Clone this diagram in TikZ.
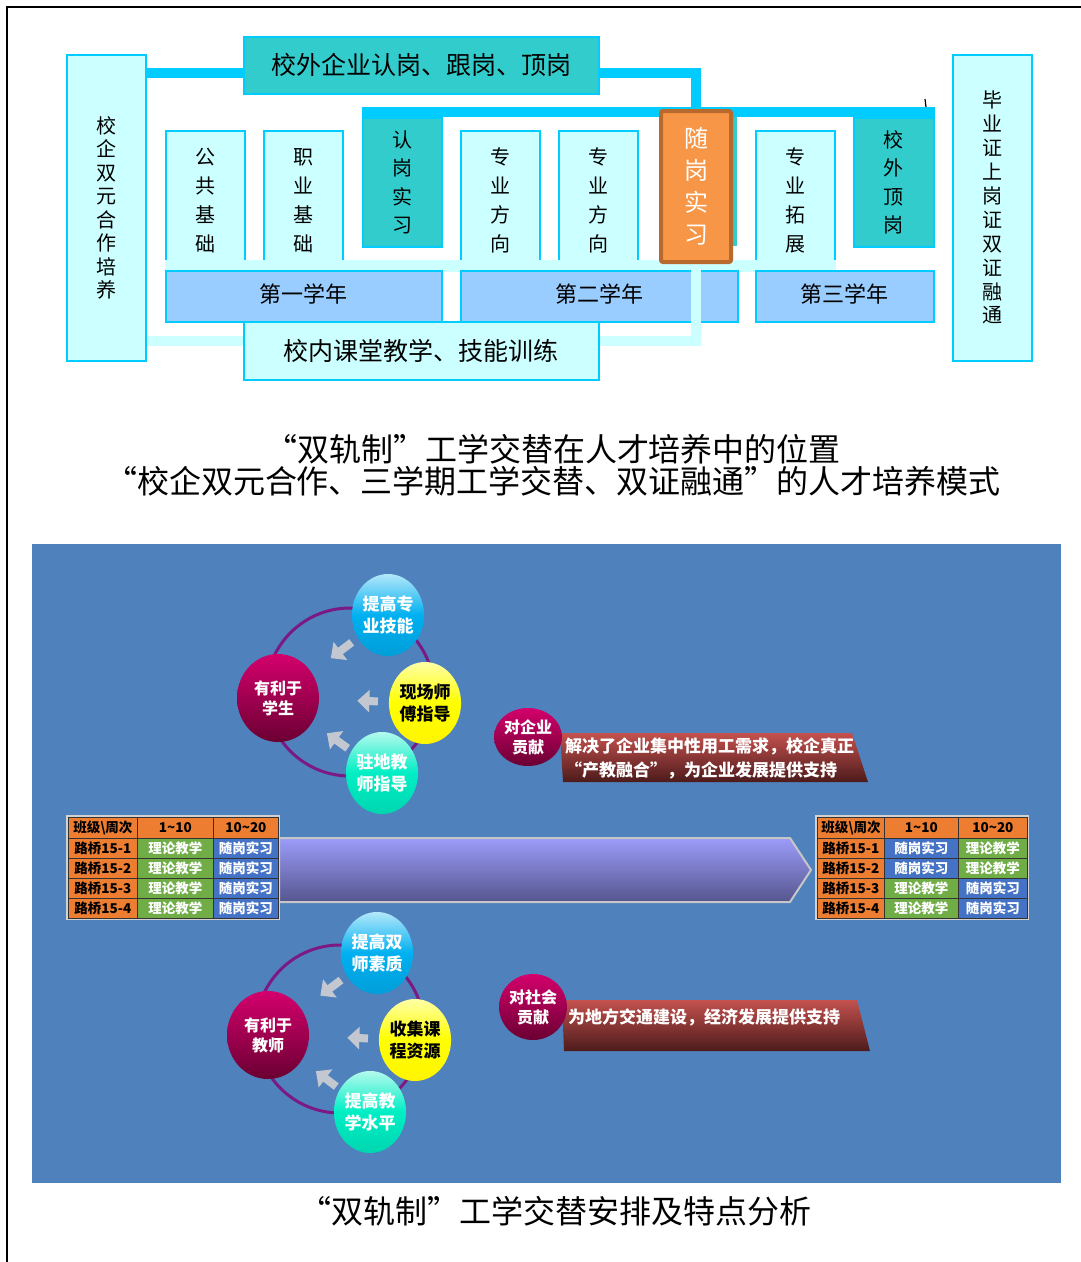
\documentclass[tikz,border=0pt]{standalone}
\usepackage{fontspec}
\setmainfont{Noto Sans CJK SC}
\usepackage{tikz}
\usetikzlibrary{arrows.meta}
\usetikzlibrary{calc}
\usetikzlibrary{shapes.geometric}

\definecolor{qianqing}{HTML}{CCFFFF}
\definecolor{tianlan}{HTML}{00CCFF}
\definecolor{qinglv}{HTML}{33CCCC}
\definecolor{nianlan}{HTML}{99CCFF}
\definecolor{juhuang}{HTML}{F79646}
\definecolor{zonghuang}{HTML}{B86A2E}
\definecolor{dilan}{HTML}{4F81BD}
\definecolor{biaocheng}{HTML}{ED7D31}
\definecolor{biaolv}{HTML}{70AD47}
\definecolor{biaolan}{HTML}{4472C4}
\definecolor{yanghong}{HTML}{D4006C}
\definecolor{anhong}{HTML}{6A0032}
\definecolor{qiulan}{HTML}{00B0F0}
\definecolor{qiuhuang}{HTML}{FFFF00}
\definecolor{qiuqing}{HTML}{00EEC4}
\definecolor{huanzi}{HTML}{7A1A82}
\definecolor{yinhui}{HTML}{C3C7CF}
\definecolor{fuhong}{HTML}{C4514E}
\definecolor{fuhei}{HTML}{4C1B1B}
\definecolor{jianzi}{HTML}{9C9CFA}
\definecolor{jianshen}{HTML}{55558E}

\newcommand{\zihao}[2]{\fontsize{#1}{#2}\selectfont}

\tikzset{
  kuang/.style={draw=tianlan, line width=1.5pt, fill=qianqing, inner sep=0pt,
    anchor=north west, align=center},
  qingkuang/.style={kuang, fill=qinglv},
  niankuang/.style={kuang, fill=nianlan, font=\zihao{22}{26}},
  shuzi/.style={font=\zihao{20}{29}},
  cuxian/.style={line width=10pt, tianlan},
  danxian/.style={line width=10pt, qianqing},
  ge/.style={draw=black!80, line width=0.8pt, inner sep=0pt, anchor=north west,
    minimum height=20pt, font=\bfseries\zihao{13.5}{14}},
  dayuan/.style={ellipse, minimum width=82pt, minimum height=88pt, inner sep=0pt,
    top color=yanghong, bottom color=anhong, text=white, align=center,
    font=\bfseries\zihao{16}{20}},
  xiaoyuan/.style={ellipse, minimum width=72pt, minimum height=82pt, inner sep=0pt,
    text=white, align=center, font=\bfseries\zihao{17}{22}},
  lanqiu/.style={top color=qiulan!30!white, bottom color=qiulan!90!black, middle color=qiulan},
  huangqiu/.style={top color=qiuhuang!35!white, bottom color=qiuhuang!92!orange, middle color=qiuhuang, text=black},
  qingqiu/.style={top color=qiuqing!30!white, bottom color=qiuqing!90!black, middle color=qiuqing},
  huanxian/.style={huanzi, line width=3pt},
  huijiantou/.style={yinhui, line width=8pt, -{Triangle[length=12pt, width=22pt]}},
  gongxian/.style={dayuan, minimum width=57pt, minimum height=58pt},
  fuwenzi/.style={text=white, inner sep=0pt, font=\bfseries\zihao{17}{24}, align=left}
}

\begin{document}
\begin{tikzpicture}[x=1pt, y=-1pt]
    \useasboundingbox (0,0) rectangle (1081,1262);
    % 边线
    \draw[line width=1.5pt] (7,1262) -- (7,7) -- (1081,7);

    % 上图：两侧及上下框
    \node[kuang, minimum width=79pt, minimum height=306pt, font=\zihao{20}{23.5}] (hezuo) at (66,54) {校\\企\\双\\元\\合\\作\\培\\养};
    \node[kuang, minimum width=79pt, minimum height=306pt, font=\zihao{20}{23.9}] (shuangzheng) at (952,54) {毕\\业\\证\\上\\岗\\证\\双\\证\\融\\通};
    \node[qingkuang, minimum width=355pt, minimum height=57pt, font=\zihao{25}{30}] (xiaowai) at (243,36) {校外企业认岗、跟岗、顶岗};

    % 课程框
    \node[kuang, shuzi, minimum width=79pt, minimum height=140pt] (gonggong) at (165,130) {公\\共\\基\\础};
    \node[kuang, shuzi, minimum width=79pt, minimum height=140pt] (zhiye) at (263,130) {职\\业\\基\\础};
    \node[kuang, shuzi, minimum width=79pt, minimum height=140pt] (fangxianga) at (460,130) {专\\业\\方\\向};
    \node[kuang, shuzi, minimum width=79pt, minimum height=140pt] (fangxiangb) at (558,130) {专\\业\\方\\向};
    \node[kuang, shuzi, minimum width=79pt, minimum height=140pt] (tuozhan) at (755,130) {专\\业\\拓\\展};
    \fill[qianqing] ([yshift=12pt]gonggong.south west) rectangle (tuozhan.south east);

    % 企业实习框
    \node[qingkuang, font=\zihao{20}{28.5}, minimum width=79pt, minimum height=129pt] (rengang) at (362,117) {认\\岗\\实\\习};
    \node[qingkuang, font=\zihao{20}{28.5}, minimum width=80pt, minimum height=129pt] (dinggang) at (853,117) {校\\外\\顶\\岗};
    \fill[tianlan] ([yshift=10pt]rengang.north west) rectangle (dinggang.north east);
    \fill[qinglv] (700,117) rectangle (737,246);
    \draw[line width=1.2pt] (925,99) -- (926,107);
    \node[kuang, fill=juhuang, draw=zonghuang, line width=4pt, rounded corners=2pt, text=white,
        font=\zihao{24}{32}, minimum width=70pt, minimum height=151pt] (suigang) at (659,109) {随\\岗\\实\\习};

    % 学年
    \node[niankuang, minimum width=276pt, minimum height=51pt] (diyi) at (165,270) {\raisebox{7pt}{第一学年}};
    \node[niankuang, minimum width=277pt, minimum height=51pt] (dier) at (460,270) {\raisebox{7pt}{第二学年}};
    \node[niankuang, minimum width=178pt, minimum height=51pt] (disan) at (755,270) {\raisebox{7pt}{第三学年}};
    \node[kuang, minimum width=355pt, minimum height=58pt, font=\zihao{25}{30}] (xiaonei) at (243,321) {校内课堂教学、技能训练};

    % 连接条
    \draw[cuxian] (hezuo.east |- 0,73) -- (xiaowai.west |- 0,73);
    \draw[cuxian, shorten >=2pt] (xiaowai.east |- 0,73) -| (suigang.north);
    \draw[danxian] (hezuo.east |- 0,341) -- (xiaonei.west |- 0,341);
    \draw[danxian, shorten >=2pt] (xiaonei.east |- 0,341) -| (suigang.south);

    % 标题
    \node[font=\zihao{32}{36}] (weizhi) at (553,449) {“双轨制”工学交替在人才培养中的位置};
    \node[font=\zihao{32}{36}] (moshi) at (553,481) {“校企双元合作、三学期工学交替、双证融通”的人才培养模式};

    % 下图底色
    \fill[dilan] (32,544) rectangle (1061,1183);

    % 中间箭头
    \shadedraw[top color=jianzi, bottom color=jianshen, draw=gray!45, line width=2pt]
        (279,838) -- (790,838) -- (811,870) -- (790,902) -- (279,902) -- cycle;

    % 左表
    \node[ge, fill=biaocheng, minimum width=69pt, minimum height=21pt] (zbiao) at (68,817) {班级\textbackslash 周次};
    \node[ge, fill=biaocheng, minimum width=76pt, minimum height=21pt] (zqa) at (137,817) {1\textasciitilde 10};
    \node[ge, fill=biaocheng, minimum width=65pt, minimum height=21pt] (zqb) at (213,817) {10\textasciitilde 20};
    \foreach \r/\y in {1/838, 2/858, 3/878, 4/898} {
        \node[ge, fill=biaocheng, minimum width=69pt] (zban\r) at (68,\y) {路桥15-\r};
        \node[ge, fill=biaolv, text=white, minimum width=76pt] (zla\r) at (137,\y) {理论教学};
        \node[ge, fill=biaolan, text=white, minimum width=65pt] (zlb\r) at (213,\y) {随岗实习};
    }
    \draw[gray!35, line width=1.2pt] ([shift={(-1pt,1pt)}]zbiao.north west) rectangle ([shift={(1pt,-1pt)}]zlb4.south east);

    % 右表
    \node[ge, fill=biaocheng, minimum width=67pt, minimum height=21pt] (ybiao) at (817,817) {班级\textbackslash 周次};
    \node[ge, fill=biaocheng, minimum width=74pt, minimum height=21pt] (yqa) at (884,817) {1\textasciitilde 10};
    \node[ge, fill=biaocheng, minimum width=69pt, minimum height=21pt] (yqb) at (958,817) {10\textasciitilde 20};
    \foreach \r/\y/\ca/\ta/\cb/\tb in {1/838/biaolan/随岗实习/biaolv/理论教学,
        2/858/biaolan/随岗实习/biaolv/理论教学, 3/878/biaolv/理论教学/biaolan/随岗实习,
        4/898/biaolv/理论教学/biaolan/随岗实习} {
        \node[ge, fill=biaocheng, minimum width=67pt] (yban\r) at (817,\y) {路桥15-\r};
        \node[ge, fill=\ca, text=white, minimum width=74pt] (yla\r) at (884,\y) {\ta};
        \node[ge, fill=\cb, text=white, minimum width=69pt] (ylb\r) at (958,\y) {\tb};
    }
    \draw[gray!35, line width=1.2pt] ([shift={(-1pt,1pt)}]ybiao.north west) rectangle ([shift={(1pt,-1pt)}]ylb4.south east);

    % 有利于学生
    \draw[huanxian] (350,692) circle[radius=84];
    \node[dayuan] (xuesheng) at (278,698) {有利于\\学生};
    \node[xiaoyuan, lanqiu] (jineng) at (388,615) {提高专\\业技能};
    \node[xiaoyuan, huangqiu] (shifu) at (425,703) {现场师\\傅指导};
    \node[xiaoyuan, qingqiu] (zhudi) at (382,773) {驻地教\\师指导};
    \draw[huijiantou] ($(jineng)!0.33!(xuesheng)$) -- ($(jineng)!0.52!(xuesheng)$);
    \draw[huijiantou] ($(shifu)!0.32!(xuesheng)$) -- ($(shifu)!0.46!(xuesheng)$);
    \draw[huijiantou] ($(zhudi)!0.33!(xuesheng)$) -- ($(zhudi)!0.53!(xuesheng)$);

    % 有利于教师
    \draw[huanxian] (340,1029) circle[radius=84];
    \node[dayuan] (jiaoshi) at (268,1035) {有利于\\教师};
    \node[xiaoyuan, lanqiu] (suzhi) at (377,953) {提高双\\师素质};
    \node[xiaoyuan, huangqiu] (ziyuan) at (415,1040) {收集课\\程资源};
    \node[xiaoyuan, qingqiu] (shuiping) at (370,1112) {提高教\\学水平};
    \draw[huijiantou] ($(suzhi)!0.33!(jiaoshi)$) -- ($(suzhi)!0.52!(jiaoshi)$);
    \draw[huijiantou] ($(ziyuan)!0.32!(jiaoshi)$) -- ($(ziyuan)!0.46!(jiaoshi)$);
    \draw[huijiantou] ($(shuiping)!0.33!(jiaoshi)$) -- ($(shuiping)!0.53!(jiaoshi)$);

    % 贡献
    \shade[top color=fuhong, bottom color=fuhei] (560,733) -- (852,733) -- (868,782) -- (563,782) -- cycle;
    \node[fuwenzi, anchor=north west] (qiyewz) at (565,738) {解决了企业集中性用工需求，校企真正\\“产教融合”，为企业发展提供支持};
    \node[gongxian] (qiye) at (528,737) {对企业\\贡献};
    \shade[top color=fuhong, bottom color=fuhei] (562,1000) -- (857,1000) -- (870,1051) -- (564,1051) -- cycle;
    \node[fuwenzi, anchor=west] (shehuiwz) at (568,1017) {为地方交通建设，经济发展提供支持};
    \node[gongxian, minimum height=66pt] (shehui) at (533,1007) {对社会\\贡献};

    % 图名
    \node[font=\zihao{32}{36}] (anpai) at (555,1211) {“双轨制”工学交替安排及特点分析};
\end{tikzpicture}
\end{document}
